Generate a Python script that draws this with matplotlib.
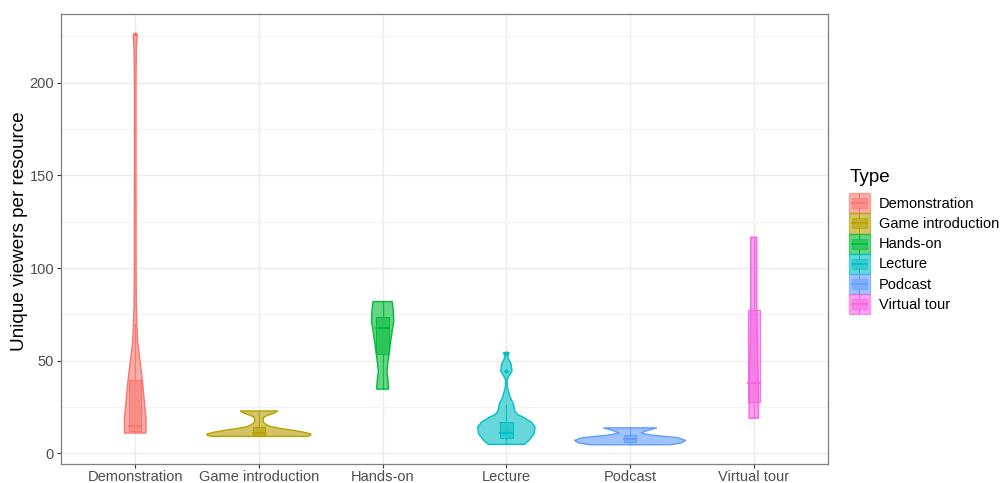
import matplotlib
matplotlib.use("Agg")
import matplotlib.pyplot as plt
import numpy as np
from matplotlib.legend_handler import HandlerBase
from matplotlib.patches import Patch, Rectangle
from matplotlib.lines import Line2D

plt.rcParams["font.family"] = ["Liberation Sans", "DejaVu Sans"]

types = ["Demonstration", "Game introduction", "Hands-on", "Lecture", "Podcast", "Virtual tour"]
colors = ["#F8766D", "#B79F00", "#00BA38", "#00BFC4", "#619CFF", "#F564E3"]

# violin outlines: value levels and relative density (1 = widest violin)
demo_y = [11, 14, 19, 28.6, 39, 50, 60, 70, 80, 100, 150, 200, 218, 226]
demo_d = [0.19, 0.194, 0.194, 0.162, 0.131, 0.086, 0.045, 0.03, 0.02, 0.016, 0.014, 0.014, 0.02, 0.036]
game_y = [9.2, 9.8, 10.5, 11.5, 12.7, 13.5, 14.4, 15.3, 16.5, 18, 19.5, 20.5, 21.5, 22.9]
game_d = [0.85, 0.93, 0.93, 0.8, 0.56, 0.38, 0.22, 0.15, 0.09, 0.075, 0.085, 0.15, 0.25, 0.338]
hands_y = [34.7, 38.8, 44.2, 48.7, 53.2, 60.4, 65.8, 71.2, 77, 81.9]
hands_d = [0.108, 0.099, 0.077, 0.093, 0.113, 0.144, 0.171, 0.2, 0.192, 0.171]
lect_y = [4.9, 7.0, 10.6, 14.2, 16.9, 19.6, 21, 23.2, 26.8, 30.4, 35.8, 39.4, 41.2, 44.4, 48.3, 51.9, 54.4]
lect_d = [0.323, 0.404, 0.499, 0.515, 0.449, 0.3, 0.2, 0.147, 0.126, 0.066, 0.018, 0.013, 0.036, 0.102, 0.084, 0.023, 0.05]
pod_y = [4.7, 5.6, 7.0, 8.5, 9.8, 11.0, 12.4, 13.8]
pod_d = [0.718, 0.916, 1.0, 0.862, 0.413, 0.194, 0.314, 0.481]
vt_y = [19, 28, 40, 60, 80, 100, 116.6]
vt_d = [0.084, 0.084, 0.077, 0.063, 0.054, 0.054, 0.054]

violin_y = [demo_y, game_y, hands_y, lect_y, pod_y, vt_y]
violin_d = [demo_d, game_d, hands_d, lect_d, pod_d, vt_d]

# boxplot stats
q1 = [12, 9.6, 53.4, 8.4, 6.1, 27.9]
med = [14.8, 11, 67.4, 11, 7.9, 37.9]
q3 = [39.4, 14.4, 73.8, 16.9, 9.7, 77.4]
wlo = [11, 9.2, 34.7, 4.9, 4.7, 19]
whi = [70, 22.9, 81.9, 26, 13.8, 116.6]
outliers = [[226], [], [], [44.4, 54.4], [], []]

fig = plt.figure(figsize=(10.01, 4.83), dpi=100)
ax = fig.add_axes([0.0609, 0.0393, 0.7663, 0.9317])

max_half = 0.45
box_w = 0.1
for i, t in enumerate(types):
    c = colors[i]
    y = np.array(violin_y[i])
    h = np.array(violin_d[i]) * max_half
    xs = np.concatenate([i - h, (i + h)[::-1]])
    ys = np.concatenate([y, y[::-1]])
    ax.fill(xs, ys, facecolor=c, alpha=0.6, edgecolor="none", zorder=3)
    ax.fill(xs, ys, facecolor="none", edgecolor=c, lw=1.0, zorder=4)
    ax.add_patch(Rectangle((i - box_w / 2, q1[i]), box_w, q3[i] - q1[i],
                           facecolor=c, alpha=0.55, edgecolor="none", zorder=5))
    ax.add_patch(Rectangle((i - box_w / 2, q1[i]), box_w, q3[i] - q1[i],
                           facecolor="none", edgecolor=c, lw=0.8, alpha=0.9, zorder=6))
    ax.plot([i - box_w / 2, i + box_w / 2], [med[i], med[i]], color=c, lw=1.6, alpha=0.9, zorder=6)
    ax.plot([i, i], [wlo[i], q1[i]], color=c, lw=0.8, alpha=0.9, zorder=6)
    ax.plot([i, i], [q3[i], whi[i]], color=c, lw=0.8, alpha=0.9, zorder=6)
    if outliers[i]:
        ax.scatter([i] * len(outliers[i]), outliers[i], s=4, color=c, zorder=7)

ax.set_xlim(-0.6, 5.6)
ax.set_ylim(-5.7, 237)
ax.set_xticks(range(len(types)))
ax.set_xticklabels(types)
ax.set_yticks([0, 50, 100, 150, 200])
ax.set_yticks([25, 75, 125, 175, 225], minor=True)
ax.grid(True, which="major", color="#EBEBEB", lw=1.0, zorder=0)
ax.grid(True, which="minor", axis="y", color="#F3F3F3", lw=0.8, zorder=0)
ax.set_axisbelow(True)
ax.tick_params(axis="both", which="major", labelsize=10.5, labelcolor="#4D4D4D",
               color="#333333", length=3, width=0.8)
ax.tick_params(axis="x", which="major", pad=1.5)
ax.tick_params(axis="y", which="major", pad=2)
ax.tick_params(axis="y", which="minor", length=0)
for s in ax.spines.values():
    s.set_color("#7F7F7F")
    s.set_linewidth(0.9)
ax.set_ylabel("Unique viewers per resource", fontsize=13.6, labelpad=1)
ax.yaxis.label.set_y(0.518)


class KeyHandler(HandlerBase):
    def create_artists(self, legend, orig_handle, xd, yd, width, height, fontsize, trans):
        c = orig_handle.get_facecolor()
        x0, y0 = -xd, -yd
        arts = [Rectangle((x0, y0), width, height, facecolor=c, alpha=0.6,
                          edgecolor=c, lw=1.0, transform=trans)]
        bx = x0 + width * 0.15
        bw = width * 0.7
        arts.append(Rectangle((bx, y0 + height * 0.25), bw, height * 0.5, facecolor=c,
                              alpha=0.5, edgecolor=c, lw=0.8, transform=trans))
        arts.append(Line2D([bx, bx + bw], [y0 + height * 0.5] * 2, color=c, lw=1.2, transform=trans))
        arts.append(Line2D([x0 + width / 2] * 2, [y0, y0 + height * 0.25], color=c, lw=0.8, transform=trans))
        arts.append(Line2D([x0 + width / 2] * 2, [y0 + height * 0.75, y0 + height], color=c, lw=0.8, transform=trans))
        return arts


handles = [Patch(facecolor=c) for c in colors]
leg = ax.legend(handles, types, title="Type", loc="center left", bbox_to_anchor=(1.02, 0.494),
                frameon=False, fontsize=10.5, title_fontsize=13.6, handlelength=1.4, handleheight=1.75,
                handletextpad=0.65, labelspacing=0.0, borderaxespad=0,
                handler_map={Patch: KeyHandler()})
leg._legend_box.align = "left"
leg._legend_box.sep = 5

fig.savefig("out.png", dpi=100)
